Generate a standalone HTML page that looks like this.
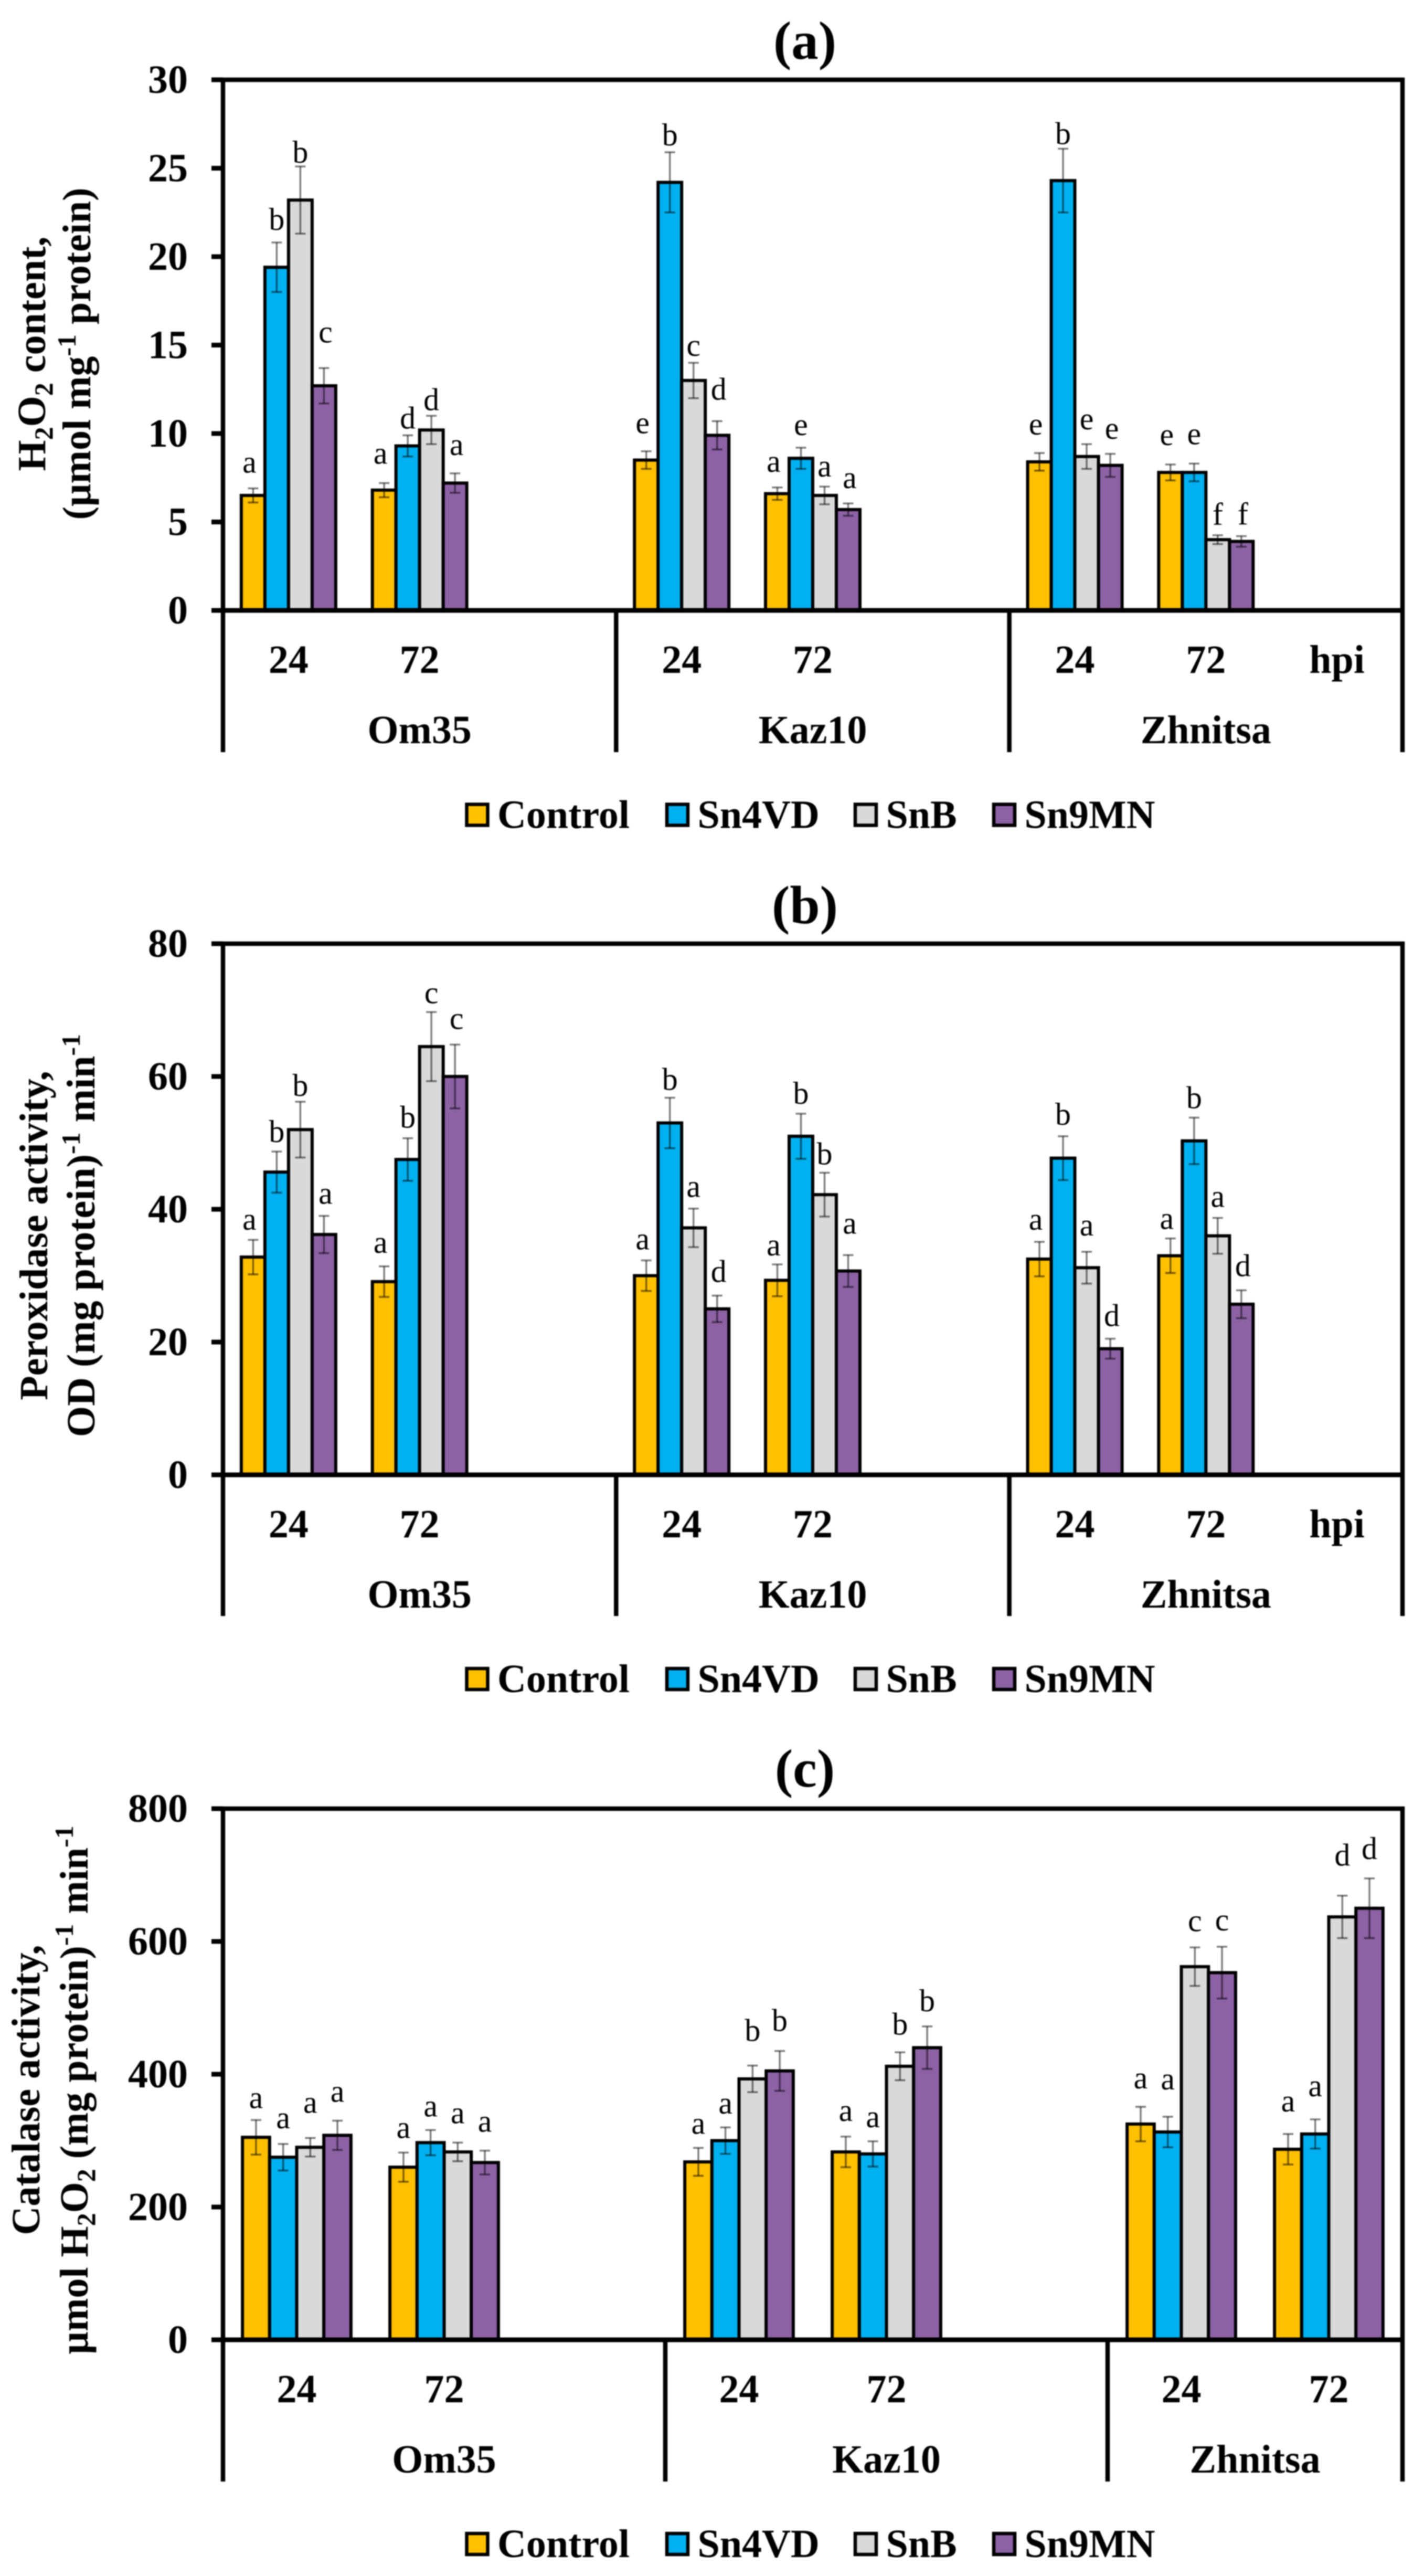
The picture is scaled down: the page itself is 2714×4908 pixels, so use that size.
<!DOCTYPE html>
<html lang="en">
<head>
<meta charset="utf-8">
<title>H2O2 content, peroxidase and catalase activity</title>
<style>
  html, body { margin: 0; padding: 0; background: #fff; }
  svg { display: block; filter: blur(1px); }
  text { font-family: "Liberation Serif", "DejaVu Serif", serif; fill: #000; }
  .b { font-weight: bold; }
</style>
</head>
<body>
<svg id="figure" xmlns="http://www.w3.org/2000/svg" width="2714" height="4908" viewBox="0 0 2714 4908"></svg>
<script>
// ---------- shared categories ----------
const seriesNames = ['Control', 'Sn4VD', 'SnB', 'Sn9MN'];
const timeLabels = ['24', '72', '24', '72', '24', '72'];
const genotypes = ['Om35', 'Kaz10', 'Zhnitsa'];

// ---------- panel (a) H2O2 ----------
const h2o2Ticks = [0, 5, 10, 15, 20, 25, 30];
const h2o2Control = [6.5, 6.8, 8.5, 6.6, 8.4, 7.8];
const h2o2Sn4VD = [19.4, 9.3, 24.2, 8.6, 24.3, 7.8];
const h2o2SnB = [23.2, 10.2, 13, 6.5, 8.7, 4];
const h2o2Sn9MN = [12.7, 7.2, 9.9, 5.7, 8.2, 3.9];
const h2o2ControlErr = [0.4, 0.4, 0.5, 0.35, 0.5, 0.45];
const h2o2Sn4VDErr = [1.4, 0.6, 1.7, 0.6, 1.8, 0.5];
const h2o2SnBErr = [1.9, 0.8, 1, 0.5, 0.7, 0.25];
const h2o2Sn9MNErr = [1, 0.55, 0.8, 0.35, 0.65, 0.3];
const h2o2ControlLetters = ['a', 'a', 'e', 'a', 'e', 'e'];
const h2o2Sn4VDLetters = ['b', 'd', 'b', 'e', 'b', 'e'];
const h2o2SnBLetters = ['b', 'd', 'c', 'a', 'e', 'f'];
const h2o2Sn9MNLetters = ['c', 'a', 'd', 'a', 'e', 'f'];

// ---------- panel (b) peroxidase ----------
const podTicks = [0, 20, 40, 60, 80];
const podControl = [32.8, 29.1, 30, 29.3, 32.5, 33];
const podSn4VD = [45.6, 47.5, 53, 51, 47.7, 50.3];
const podSnB = [52, 64.5, 37.2, 42.2, 31.2, 36];
const podSn9MN = [36.2, 60, 25, 30.7, 19, 25.7];
const podControlErr = [2.6, 2.3, 2.3, 2.4, 2.6, 2.6];
const podSn4VDErr = [3.1, 3.2, 3.8, 3.4, 3.3, 3.5];
const podSnBErr = [4.2, 5.2, 2.9, 3.3, 2.4, 2.7];
const podSn9MNErr = [2.8, 4.8, 2, 2.4, 1.5, 2.1];
const podControlLetters = ['a', 'a', 'a', 'a', 'a', 'a'];
const podSn4VDLetters = ['b', 'b', 'b', 'b', 'b', 'b'];
const podSnBLetters = ['b', 'c', 'a', 'b', 'a', 'a'];
const podSn9MNLetters = ['a', 'c', 'd', 'a', 'd', 'd'];

// ---------- panel (c) catalase ----------
const catTicks = [0, 200, 400, 600, 800];
const catControl = [305, 260, 268, 283, 325, 287];
const catSn4VD = [275, 297, 300, 280, 313, 310];
const catSnB = [290, 283, 393, 412, 562, 637];
const catSn9MN = [308, 267, 405, 440, 553, 650];
const catControlErr = [26, 22, 21, 23, 26, 23];
const catSn4VDErr = [20, 19, 20, 19, 23, 22];
const catSnBErr = [14, 14, 20, 21, 29, 32];
const catSn9MNErr = [22, 18, 30, 32, 39, 45];
const catControlLetters = ['a', 'a', 'a', 'a', 'a', 'a'];
const catSn4VDLetters = ['a', 'a', 'a', 'a', 'a', 'a'];
const catSnBLetters = ['a', 'a', 'b', 'b', 'c', 'd'];
const catSn9MNLetters = ['a', 'a', 'b', 'b', 'c', 'd'];

// ---------- layout (not data) ----------
const SERIES_FILL = ['#FFC000', '#00B0F0', '#D9D9D9', '#8C62A5'];
const LEGEND_X = [889.5, 1271, 1630, 1894];
const AXIS_LEFT = 425, AXIS_RIGHT = 2673, TICK_LEFT = 403;
const SLOT_OF_CATEGORY = [0, 1, 3, 4, 6, 7];
const GROUP_SPAN = [[0, 3], [3, 6], [6, 0]];

const panels = [
  { key: 'a', title: '(a)', titleBase: 112, top: 152, base: 1163, bottom: 1433, legend: 1552.5, slots: 9, barW: 45, max: 30, hpi: true,
    ticks: h2o2Ticks,
    values: [h2o2Control, h2o2Sn4VD, h2o2SnB, h2o2Sn9MN],
    errors: [h2o2ControlErr, h2o2Sn4VDErr, h2o2SnBErr, h2o2Sn9MNErr],
    letters: [h2o2ControlLetters, h2o2Sn4VDLetters, h2o2SnBLetters, h2o2Sn9MNLetters],
    letterGap: [[44,51,48,44,49,51],[44,33,33,38,29,51],[27,31,27,33,42,40],[63,49,61,43,43,42]],
    letterDx: [-7, 0, 0, 3],
    titleCenter: 674, line1X: 86, line2X: 172,
    line1: [['H'], ['2', 'sub'], ['O'], ['2', 'sub'], [' content,']],
    line2: [['(µmol mg'], ['-1', 'sup'], ['  protein)']] },
  { key: 'b', title: '(b)', titleBase: 1759, top: 1798, base: 2810, bottom: 3079, legend: 3199, slots: 9, barW: 45, max: 80, hpi: true,
    ticks: podTicks,
    values: [podControl, podSn4VD, podSnB, podSn9MN],
    errors: [podControlErr, podSn4VDErr, podSnBErr, podSn9MNErr],
    letters: [podControlLetters, podSn4VDLetters, podSnBLetters, podSn9MNLetters],
    letterGap: [[33,40,35,31,37,32],[38,40,35,39,42,38],[31,31,36,36,45,35],[37,44,46,55,44,47]],
    letterDx: [-7, 0, 0, 3],
    titleCenter: 2354, line1X: 90, line2X: 180,
    line1: [['Peroxidase activity,']],
    line2: [['OD (mg protein)'], ['-1', 'sup'], [' min'], ['-1', 'sup']] },
  { key: 'c', title: '(c)', titleBase: 3404, top: 3446, base: 4458, bottom: 4728, legend: 4847, slots: 8, barW: 51.7, max: 800, hpi: false,
    ticks: catTicks,
    values: [catControl, catSn4VD, catSnB, catSn9MN],
    errors: [catControlErr, catSn4VDErr, catSnBErr, catSn9MNErr],
    letters: [catControlLetters, catSn4VDLetters, catSnBLetters, catSn9MNLetters],
    letterGap: [[37,42,41,44,49,57],[44,40,40,41,66,58],[62,51,67,54,45,77],[50,50,58,49,45,57]],
    letterDx: [0, 0, 0, 0],
    titleCenter: 3982, line1X: 75, line2X: 167,
    line1: [['Catalase activity,']],
    line2: [['µmol H'], ['2', 'sub'], ['O'], ['2', 'sub'], [' (mg protein)'], ['-1', 'sup'], [' min'], ['-1', 'sup']] }
];

const NS = 'http://www.w3.org/2000/svg';
const root = document.getElementById('figure');

function shape(tag, parent, attrs) {
  const node = document.createElementNS(NS, tag);
  for (const k in attrs) node.setAttribute(k, attrs[k]);
  parent.appendChild(node);
  return node;
}
function hLine(parent, x1, x2, y, w) {
  return shape('line', parent, { x1: x1, x2: x2, y1: y, y2: y, stroke: '#000', 'stroke-width': w });
}
function vLine(parent, x, y1, y2, w) {
  return shape('line', parent, { x1: x, x2: x, y1: y1, y2: y2, stroke: '#000', 'stroke-width': w });
}

panels.forEach(function (p) {
  const slotW = (AXIS_RIGHT - AXIS_LEFT) / p.slots;
  const yOf = function (v) { return p.base - (v / p.max) * (p.base - p.top); };
  const slotCenter = function (s) { return AXIS_LEFT + (s + 0.5) * slotW; };

  const g = shape('g', root, {});
  
  

  // title
  const title = shape('text', g, { x: 1534, y: p.titleBase, 'text-anchor': 'middle', 'font-size': 103, class: 'b' });
  
  
  title.textContent = p.title;

  // y axis title
  [[p.line1, p.line1X], [p.line2, p.line2X]].forEach(function (line, li) {
    const t = shape('text', g, { x: line[1], y: p.titleCenter, 'text-anchor': 'middle', 'font-size': 76, class: 'b',
      transform: 'rotate(-90 ' + line[1] + ' ' + p.titleCenter + ')', 'xml:space': 'preserve' });
    
    
    let shift = 0;
    line[0].forEach(function (seg) {
      const target = seg[1] === 'sub' ? 14 : seg[1] === 'sup' ? -28 : 0;
      const attrs = { dy: target - shift };
      if (seg[1]) attrs['font-size'] = 50;
      const ts = shape('tspan', t, attrs);
      
      
      ts.textContent = seg[0];
      shift = target;
    });
  });

  // bars, error bars, letters
  p.values.forEach(function (vals, s) {
    vals.forEach(function (v, c) {
      const left = slotCenter(SLOT_OF_CATEGORY[c]) + (s - 2) * p.barW;
      const mid = left + p.barW / 2;
      const bar = shape('rect', g, { x: left, y: yOf(v), width: p.barW, height: p.base - yOf(v),
        fill: SERIES_FILL[s], stroke: '#000', 'stroke-width': 6 });
      
      
    });
  });
  p.values.forEach(function (vals, s) {
    vals.forEach(function (v, c) {
      const left = slotCenter(SLOT_OF_CATEGORY[c]) + (s - 2) * p.barW;
      const ex = left + p.barW / 2;
      const e = p.errors[s][c];
      const eg = shape('g', g, { stroke: '#000', 'stroke-opacity': 0.5, 'stroke-width': 3.5 });
      
      
      shape('line', eg, { x1: ex, x2: ex, y1: yOf(v + e), y2: yOf(v - e) });
      shape('line', eg, { x1: ex - 10, x2: ex + 10, y1: yOf(v + e), y2: yOf(v + e) });
      shape('line', eg, { x1: ex - 10, x2: ex + 10, y1: yOf(v - e), y2: yOf(v - e) });

      const ch = p.letters[s][c];
      const drop = /[bdf]/.test(ch) ? 20 : 14;
      const lab = shape('text', g, { x: ex + p.letterDx[s], y: yOf(v + e) - p.letterGap[s][c] + drop, 'text-anchor': 'middle', 'font-size': 60 });
      lab.setAttribute('fill', '#222');
      
      
      lab.textContent = ch;
    });
  });

  // axes
  const axes = shape('g', g, {});
  
  
  vLine(axes, AXIS_LEFT, p.top - 4, p.bottom, 8.5);
  vLine(axes, AXIS_RIGHT, p.top - 4, p.bottom, 8.5);
  hLine(axes, TICK_LEFT, AXIS_RIGHT + 4, p.top, 8.5);
  hLine(axes, TICK_LEFT, AXIS_RIGHT + 4, p.base, 9);
  [3, 6].forEach(function (s) {
    vLine(axes, AXIS_LEFT + s * slotW, p.base, p.bottom, 8.5);
  });

  // y ticks
  p.ticks.forEach(function (t) {
    const y = yOf(t);
    const mark = hLine(g, TICK_LEFT, AXIS_LEFT, y, 9);
    
    
    const lab = shape('text', g, { x: 358, y: y + 25, 'text-anchor': 'end', 'font-size': 76, class: 'b' });
    
    
    lab.textContent = t;
  });

  // x labels
  timeLabels.forEach(function (label, c) {
    const lab = shape('text', g, { x: slotCenter(SLOT_OF_CATEGORY[c]), y: p.base + 119, 'text-anchor': 'middle', 'font-size': 76, class: 'b' });
    
    
    lab.textContent = label;
  });
  if (p.hpi) {
    const hpi = shape('text', g, { x: slotCenter(8), y: p.base + 119, 'text-anchor': 'middle', 'font-size': 76, class: 'b' });
    
    
    hpi.textContent = 'hpi';
  }
  genotypes.forEach(function (name, i) {
    const span = GROUP_SPAN[i];
    const endSlot = span[1] || p.slots;
    const lab = shape('text', g, { x: AXIS_LEFT + (span[0] + endSlot) / 2 * slotW, y: p.base + 253, 'text-anchor': 'middle', 'font-size': 76, class: 'b' });
    
    
    lab.textContent = name;
  });

  // legend
  const legend = shape('g', g, {});
  
  
  seriesNames.forEach(function (name, s) {
    const entry = shape('g', legend, {});
    
    
    const sw = shape('rect', entry, { x: LEGEND_X[s], y: p.legend - 20, width: 40, height: 40, fill: SERIES_FILL[s], stroke: '#000', 'stroke-width': 6.5 });
    
    
    const tx = shape('text', entry, { x: LEGEND_X[s] + 58.5, y: p.legend + 25, 'font-size': 76, class: 'b' });
    
    
    tx.textContent = name;
  });
});
</script>
</body>
</html>
